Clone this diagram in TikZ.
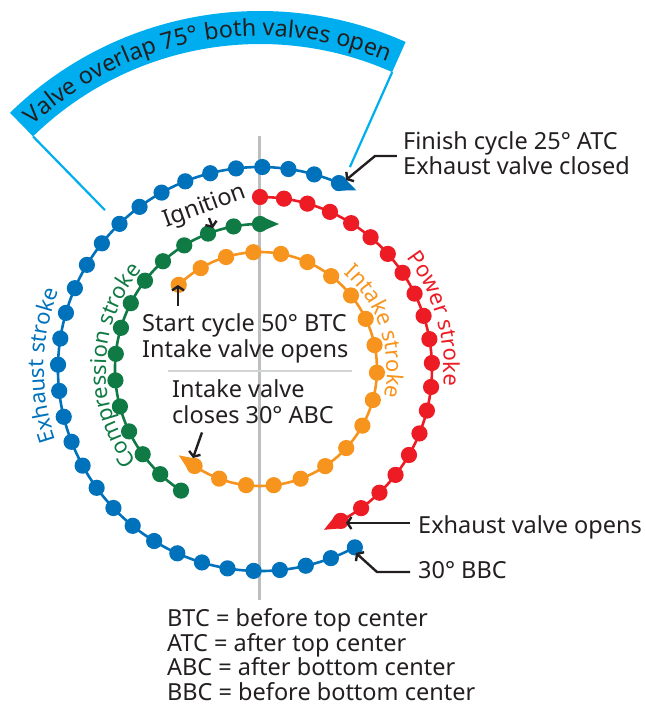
\documentclass[tikz,border=0pt]{standalone}
\usepackage{fontspec}
\setmainfont{Noto Sans}
\usetikzlibrary{arrows.meta,calc,decorations.text}
\definecolor{exhaust}{HTML}{0072BC}
\definecolor{power}{HTML}{ED1C24}
\definecolor{compr}{HTML}{107A44}
\definecolor{intake}{HTML}{F7941D}
\definecolor{overlap}{HTML}{00AEEF}
\definecolor{ink}{HTML}{231F20}
\definecolor{rule}{HTML}{BCBEC0}
\definecolor{hrule}{HTML}{D1D3D4}
\tikzset{
  lbl/.style={ink,font=\fontsize{23.5}{26}\selectfont,inner sep=0pt,align=left,anchor=base west},
  pointer/.style={-{Straight Barb[length=4pt,width=12pt]},ink,line width=2.4pt},
  axis/.style={rule,line width=3pt},
}
% colour, radius, start, end, intervals
\newcommand{\dotring}[5]{%
  \draw[#1,line width=2.6pt] (#3:#2) arc[start angle=#3,end angle=#4,radius=#2];
  \foreach \k in {0,...,#5}
    \fill[#1] ({#3+(#4-#3)*\k/#5}:#2) circle[radius=8.1];
  \begin{scope}[shift={(#4:#2)},rotate=#4]
    \fill[#1] (8.1,0) -- (0,-19) -- (-8.1,0) -- cycle;
  \end{scope}
}
% colour, radius, centre angle, size, text
\newcommand{\arclabel}[5]{%
  \path[decorate,decoration={text along path,text align=center,
      text={|\fontsize{#4}{26}\selectfont\color{#1}|#5}}]
    ({#3+60}:#2) arc[start angle={#3+60},end angle={#3-60},radius=#2];
}
\begin{document}
\begin{tikzpicture}[x=1pt,y=1pt]
  \useasboundingbox (-260,-336) rectangle (386,369);
  % overlap band
  \fill[overlap] (66:325) arc[start angle=66,end angle=134.3,radius=325]
    -- (134.3:358) arc[start angle=134.3,end angle=66,radius=358] -- cycle;
  \draw[overlap,line width=2.2pt] (66:221) -- (66:325) (134.3:222) -- (134.3:325);
  \arclabel{ink}{333}{100.2}{23.3}{Valve overlap 75° both valves open}
  \draw[axis] (0,233) -- (0,-231);
  \draw[hrule,line width=1.3pt] (-92,-2) -- (92,-2);
  % strokes
  \dotring{exhaust}{202}{-62}{-293}{31}
  \dotring{power}{172}{90}{-62}{19}
  \dotring{compr}{145}{-123}{-270}{14}
  \dotring{intake}{117}{134}{-124}{19}
  \arclabel{exhaust}{216}{179}{22}{Exhaust stroke}
  \arclabel{compr}{154}{178.5}{22}{Compression stroke}
  \arclabel{power}{184}{16}{22}{Power stroke}
  \arclabel{intake}{127}{18}{22}{Intake stroke}
  % labels
  \node[lbl] (finish) at (143,194) {Finish cycle 25° ATC\\Exhaust valve closed};
  \node[lbl] (evo) at (158,-164) {Exhaust valve opens};
  \node[lbl] (bbc) at (158,-209) {30° BBC};
  \node[lbl] (start) at (-118,12) {Start cycle 50° BTC\\Intake valve opens};
  \node[lbl] (ivc) at (-88,-54) {Intake valve\\closes 30° ABC};
  \node[lbl,anchor=center,rotate=20] (ign) at (-55,162) {Ignition};
  \node[lbl,font=\fontsize{23.5}{24.5}\selectfont] (legend) at (-93,-331)
    {BTC = before top center\\ATC = after top center\\ABC = after bottom center\\BBC = before bottom center};
  \coordinate (finpt) at (86,189);
  \coordinate (evopt) at (86,-154);
  \coordinate (bbcpt) at (96,-184);
  \coordinate (startpt) at (-82,84);
  \coordinate (ivcpt) at (-67,-89);
  \coordinate (ignpt) at (-47,141);
  \draw[pointer] (finish.base west) ++(-6,19) -- ++(-22,0) -- (finpt);
  \draw[pointer] (evopt -| evo.west) ++(-8,0) -- (evopt);
  \draw[pointer] (bbc.base west) ++(-8,6) -- ++(-33,0) -- (bbcpt);
  \draw[pointer] (startpt |- start.north) ++(0,7) -- (startpt);
  \draw[pointer] (ivc.south west) ++(30,-9) -- (ivcpt);
  \draw[pointer] (ign.south) -- (ignpt);
\end{tikzpicture}
\end{document}
